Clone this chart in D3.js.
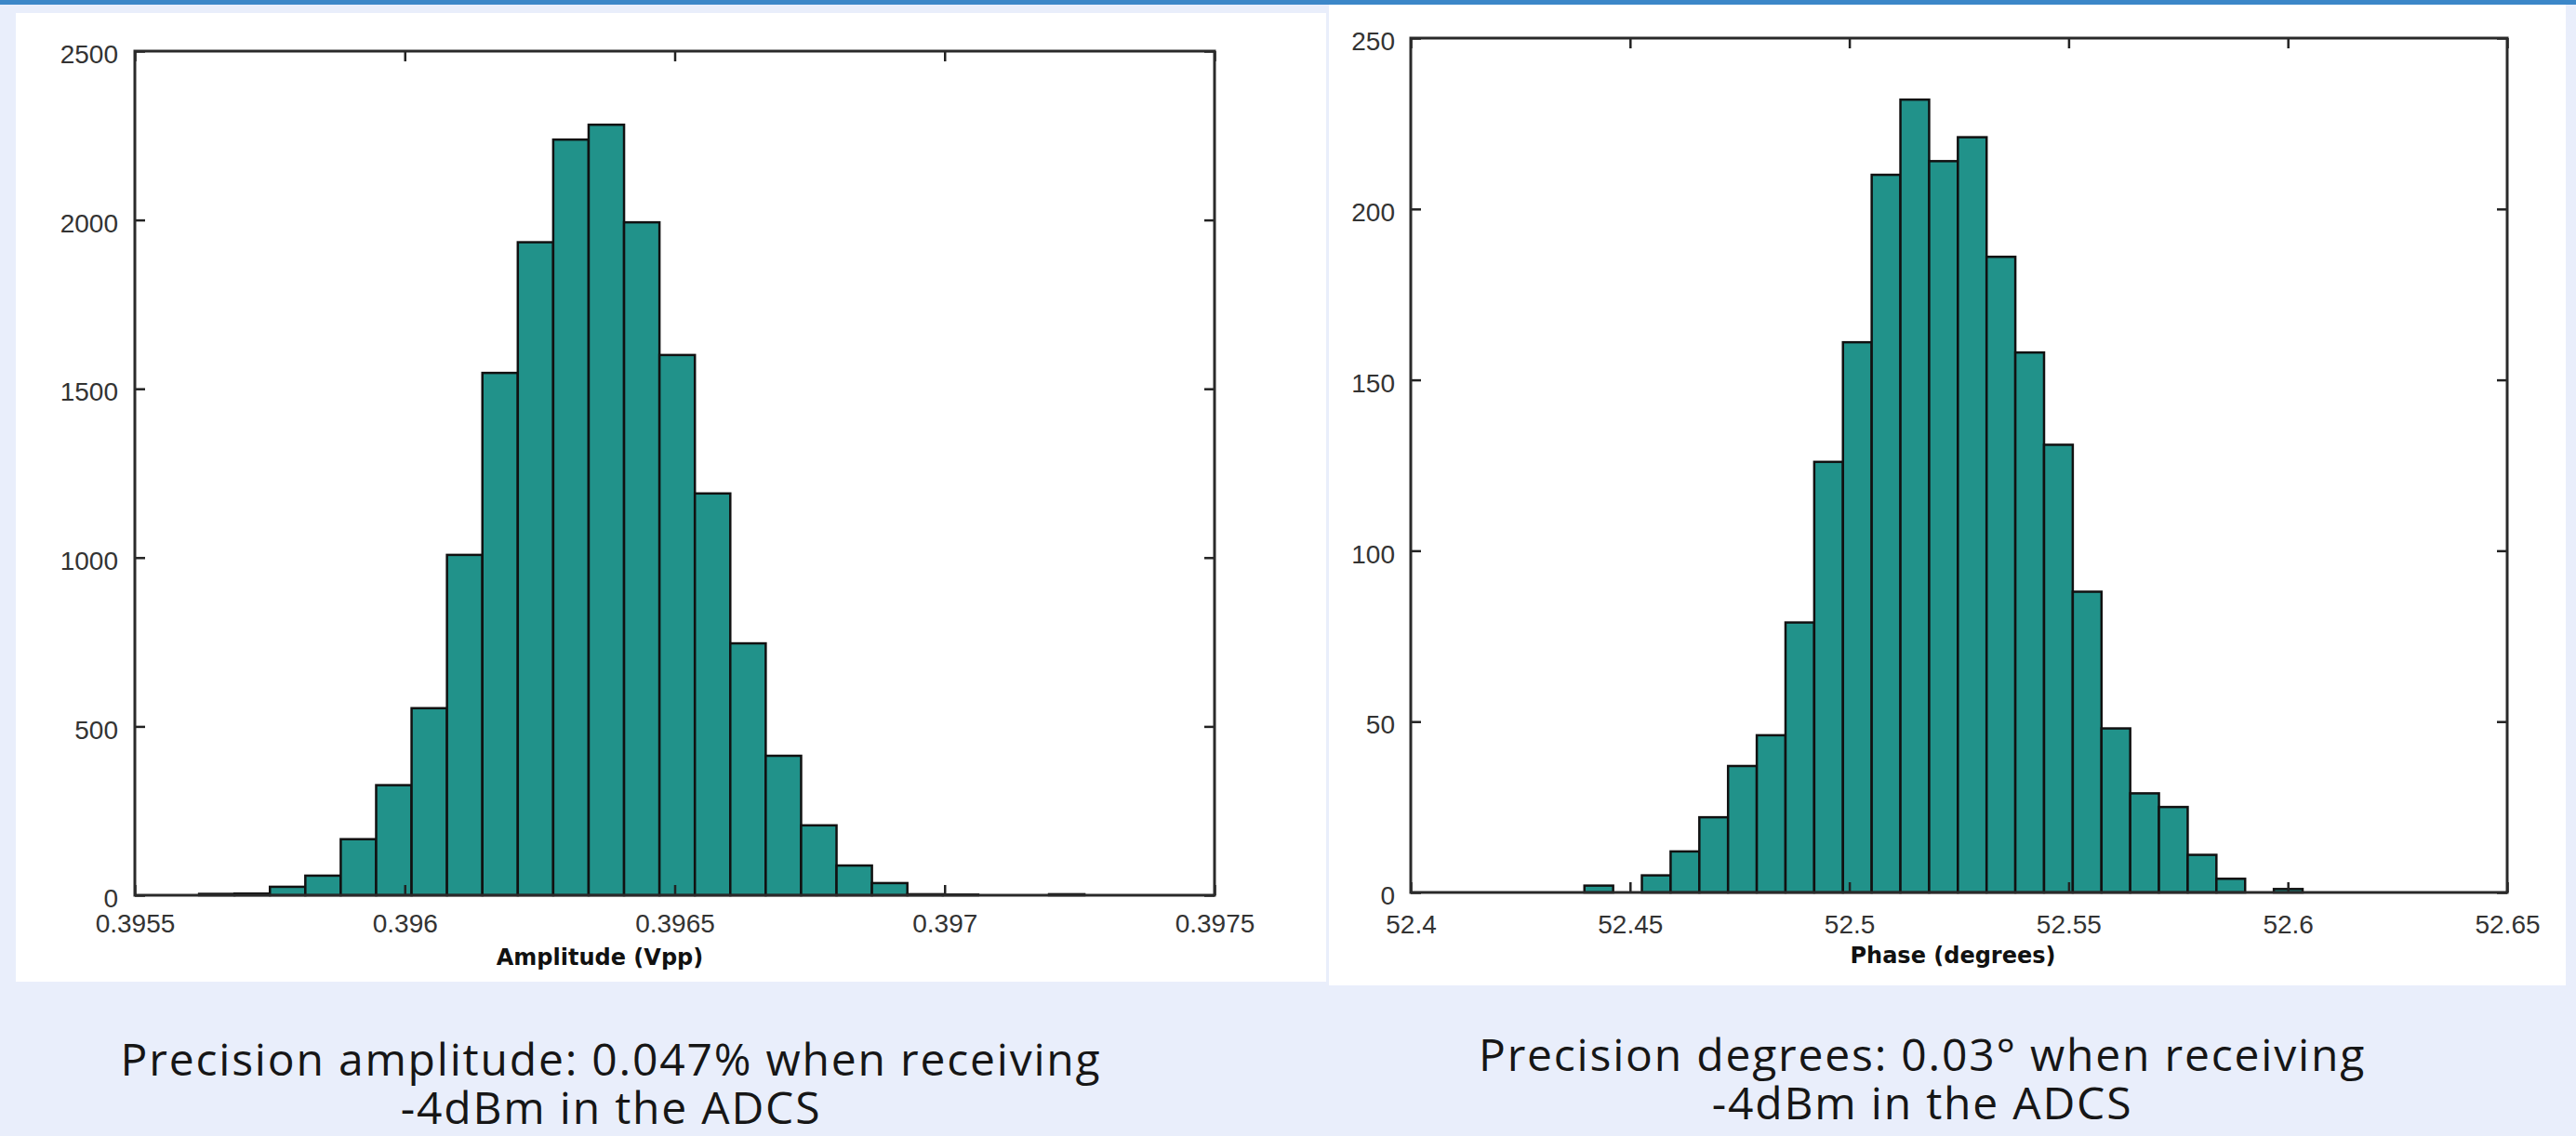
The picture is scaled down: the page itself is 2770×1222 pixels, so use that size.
<!DOCTYPE html>
<html>
<head>
<meta charset="utf-8">
<script src="https://cdnjs.cloudflare.com/ajax/libs/d3/7.8.5/d3.min.js"></script>
<style>
  body { margin: 0; background: #e9eefb; }
  svg { display: block; }
  .tick-lbl { font-family: "Liberation Sans", Arial, sans-serif; font-size: 28px; fill: #333; }
  .ax-title { font-family: "DejaVu Sans", Verdana, sans-serif; font-weight: bold; font-size: 24px; fill: #111; }
  .caption { font-family: "Open Sans", sans-serif; font-size: 48px; letter-spacing: 1.8px; fill: #161616; }
</style>
</head>
<body>
<div id="main"></div>
<script>
// amplitude histogram (Vpp), 25 bins
const ampCounts = [4, 5, 25, 58, 166, 326, 554, 1008, 1547, 1934, 2238, 2282, 1993,
  1600, 1190, 746, 413, 207, 88, 36, 3, 2, 0, 0, 3];
const ampBinStart = 0.395619;
const ampBinWidth = 0.0000656;
const ampXTicks = [0.3955, 0.396, 0.3965, 0.397, 0.3975];
const ampXLabels = ['0.3955', '0.396', '0.3965', '0.397', '0.3975'];
const ampYTicks = [0, 500, 1000, 1500, 2000, 2500];

// phase histogram (degrees), 25 bins
const phaseCounts = [2, 0, 5, 12, 22, 37, 46, 79, 126, 161, 210, 232, 214,
  221, 186, 158, 131, 88, 48, 29, 25, 11, 4, 0, 1];
const phaseBinStart = 52.4396;
const phaseBinWidth = 0.00655;
const phaseXTicks = [52.4, 52.45, 52.5, 52.55, 52.6, 52.65];
const phaseXLabels = ['52.4', '52.45', '52.5', '52.55', '52.6', '52.65'];
const phaseYTicks = [0, 50, 100, 150, 200, 250];

const captions = [
  ['Precision amplitude: 0.047% when receiving', '-4dBm in the ADCS'],
  ['Precision degrees: 0.03° when receiving', '-4dBm in the ADCS']
];

const W = 2770, H = 1222;
const BAR_FILL = '#21928a';
const TICK = 11;

var svg = d3.select('#main').append('svg')
  .attr('width', W)
  .attr('height', H);

svg.append('rect').attr('width', W).attr('height', H).attr('fill', '#e9eefb');
svg.append('rect').attr('width', W).attr('height', 5).attr('fill', '#3c87c8');

// white picture panels
svg.append('rect').attr('x', 17).attr('y', 14).attr('width', 1409).attr('height', 1042).attr('fill', '#fff');
svg.append('rect').attr('x', 1429).attr('y', 5).attr('width', 1330).attr('height', 1055).attr('fill', '#fff');

function drawHist(cfg) {
  var x = d3.scaleLinear().domain(cfg.xDomain).range([cfg.left, cfg.right]);
  var y = d3.scaleLinear().domain(cfg.yDomain).range([cfg.bottom, cfg.top]);

  var g = svg.append('g');

  var bins = cfg.counts.map(function (c, i) {
    return { x0: cfg.binStart + i * cfg.binWidth, x1: cfg.binStart + (i + 1) * cfg.binWidth, count: c };
  }).filter(function (d) { return d.count > 0; });

  g.selectAll('rect.bar')
    .data(bins)
    .enter()
    .append('rect')
    .attr('class', 'bar')
    .attr('x', function (d) { return x(d.x0); })
    .attr('y', function (d) { return y(d.count); })
    .attr('width', function (d) { return x(d.x1) - x(d.x0); })
    .attr('height', function (d) { return y(0) - y(d.count); })
    .attr('fill', BAR_FILL)
    .attr('stroke', '#111')
    .attr('stroke-width', 2.5);

  // inward ticks on all four sides
  var bottomAx = g.append('g')
    .attr('transform', 'translate(0,' + cfg.bottom + ')')
    .call(d3.axisBottom(x).tickValues(cfg.xTicks)
      .tickFormat(function (d, i) { return cfg.xLabels[i]; })
      .tickSize(-TICK).tickSizeOuter(0).tickPadding(cfg.xPad));
  var topAx = g.append('g')
    .attr('transform', 'translate(0,' + cfg.top + ')')
    .call(d3.axisTop(x).tickValues(cfg.xTicks).tickFormat('').tickSize(-TICK).tickSizeOuter(0));
  var leftAx = g.append('g')
    .attr('transform', 'translate(' + cfg.left + ',0)')
    .call(d3.axisLeft(y).tickValues(cfg.yTicks).tickFormat(d3.format('d'))
      .tickSize(-TICK).tickSizeOuter(0).tickPadding(cfg.yPad));
  var rightAx = g.append('g')
    .attr('transform', 'translate(' + cfg.right + ',0)')
    .call(d3.axisRight(y).tickValues(cfg.yTicks).tickFormat('').tickSize(-TICK).tickSizeOuter(0));

  [bottomAx, topAx, leftAx, rightAx].forEach(function (a) {
    a.select('.domain').remove();
    a.selectAll('line').attr('stroke', '#222').attr('stroke-width', 2.5);
    a.selectAll('text').attr('class', 'tick-lbl').attr('font-size', null).attr('font-family', null).attr('fill', null);
  });
  leftAx.selectAll('text').attr('dy', '0.45em');

  g.append('rect')
    .attr('x', cfg.left).attr('y', cfg.top)
    .attr('width', cfg.right - cfg.left).attr('height', cfg.bottom - cfg.top)
    .attr('fill', 'none')
    .attr('stroke', '#2a2a2a')
    .attr('stroke-width', 3);

  g.append('text')
    .attr('class', 'ax-title')
    .attr('x', cfg.titleX).attr('y', cfg.titleY)
    .attr('text-anchor', 'middle')
    .text(cfg.title);

  g.append('text')
    .attr('class', 'caption')
    .attr('text-anchor', 'middle')
    .selectAll('tspan')
    .data(cfg.caption)
    .enter()
    .append('tspan')
    .attr('x', cfg.capX)
    .attr('y', function (d, i) { return cfg.capY + i * 52; })
    .text(function (d) { return d; });
}

drawHist({
  counts: ampCounts, binStart: ampBinStart, binWidth: ampBinWidth,
  xDomain: [0.3955, 0.3975], yDomain: [0, 2500],
  xTicks: ampXTicks, xLabels: ampXLabels, yTicks: ampYTicks,
  left: 145, right: 1306, top: 55, bottom: 963,
  xPad: 20, yPad: 18,
  title: 'Amplitude (Vpp)', titleX: 645, titleY: 1038,
  caption: captions[0], capX: 657, capY: 1157
});

drawHist({
  counts: phaseCounts, binStart: phaseBinStart, binWidth: phaseBinWidth,
  xDomain: [52.4, 52.65], yDomain: [0, 250],
  xTicks: phaseXTicks, xLabels: phaseXLabels, yTicks: phaseYTicks,
  left: 1517, right: 2696, top: 41, bottom: 960,
  xPad: 24, yPad: 17,
  title: 'Phase (degrees)', titleX: 2100, titleY: 1036,
  caption: captions[1], capX: 2067, capY: 1152
});
</script>
</body>
</html>
